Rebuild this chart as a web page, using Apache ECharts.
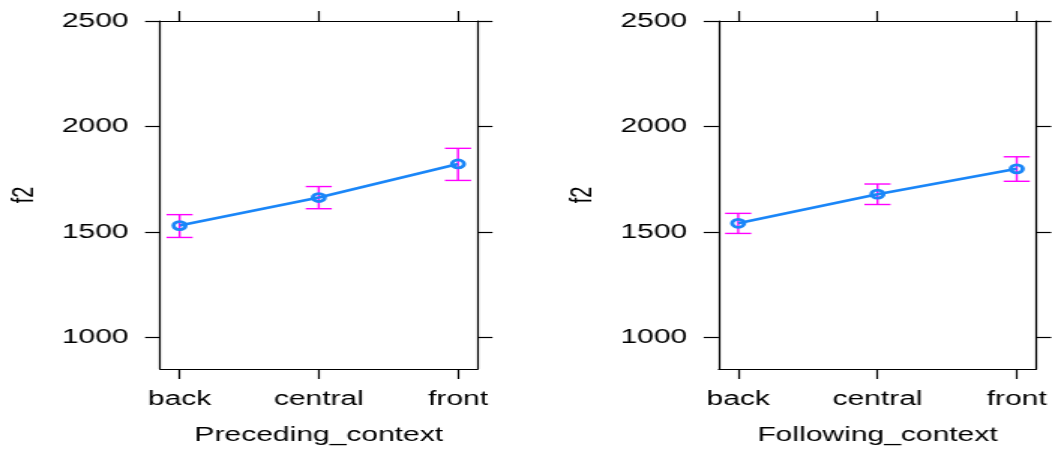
<!DOCTYPE html>
<html>
<head>
<meta charset="utf-8">
<script src="https://cdn.jsdelivr.net/npm/echarts@6/dist/echarts.min.js"></script>
<style>
html,body{margin:0;padding:0;background:#fff;overflow:hidden;}
#chart{width:701px;height:450px;transform:scaleX(1.5007);transform-origin:0 0;}
</style>
</head>
<body>
<div id="chart"></div>
<script>
// ---- data ----
const categories = ['back', 'central', 'front'];
const yTicks = [1000, 1500, 2000, 2500];
const panelTitles = ['Preceding_context', 'Following_context'];
const yName = 'f2';

const precedingFit   = [1531, 1664, 1823];
const precedingLower = [1475, 1611, 1745];
const precedingUpper = [1583, 1716, 1897];

const followingFit   = [1542, 1680, 1800];
const followingLower = [1494, 1631, 1741];
const followingUpper = [1589, 1728, 1857];

// ---- build ----
const panels = [
  {fit: precedingFit, lo: precedingLower, hi: precedingUpper, name: panelTitles[0]},
  {fit: followingFit, lo: followingLower, hi: followingUpper, name: panelTitles[1]}
];
const catIdx = categories.map((c, i) => i);
const FONT = 'Liberation Sans, Arial, Helvetica, sans-serif';
const LINE = '#000';
const TXT = '#000';
const BLUE = '#1a86f8';
const MAG = '#ff00ff';

const grids = [
  {left: 106.67, top: 21, width: 211.5, height: 349.7},
  {left: 478.9, top: 21, width: 211.6, height: 349.7}
];

const xAxes = [], yAxes = [], series = [];
panels.forEach((p, g) => {
  const xBase = {
    type: 'value', gridIndex: g, min: -0.14, max: 2.14,
    splitLine: {show: false},
    axisLine: {show: true, onZero: false, lineStyle: {color: LINE, width: 1.2}},
    axisTick: {show: true, inside: false, length: 10, customValues: catIdx, lineStyle: {color: LINE, width: 1.2}}
  };
  xAxes.push(Object.assign({}, xBase, {
    position: 'bottom',
    name: p.name, nameLocation: 'middle', nameGap: 56,
    nameTextStyle: {fontFamily: FONT, fontSize: 20, color: TXT},
    axisLabel: {show: true, margin: 20, customValues: catIdx, fontFamily: FONT, fontSize: 20, color: TXT,
      formatter: v => categories[Math.round(v)]}
  }));
  xAxes.push(Object.assign({}, xBase, {position: 'top', axisLabel: {show: false}}));

  const yBase = {
    type: 'value', gridIndex: g, min: 852, max: 2500,
    splitLine: {show: false},
    axisLine: {show: true, onZero: false, lineStyle: {color: LINE, width: 1.2}},
    axisTick: {show: true, inside: false, length: 10, customValues: yTicks, lineStyle: {color: LINE, width: 1.2}}
  };
  yAxes.push(Object.assign({}, yBase, {
    position: 'left',
    name: yName, nameLocation: 'middle', nameGap: 80,
    nameTextStyle: {fontFamily: FONT, fontSize: 20, color: TXT},
    axisLabel: {show: true, margin: 21, customValues: yTicks, fontFamily: FONT, fontSize: 20, color: TXT,
      formatter: v => String(Math.round(v))}
  }));
  yAxes.push(Object.assign({}, yBase, {position: 'right', axisLabel: {show: false}}));

  const xi = g * 2, yi = g * 2;
  series.push({
    type: 'custom', xAxisIndex: xi, yAxisIndex: yi, z: 2,
    data: catIdx.map(i => [i, p.lo[i], p.hi[i]]),
    renderItem: (params, api) => {
      const x = api.value(0);
      const lo = api.coord([x, api.value(1)]);
      const hi = api.coord([x, api.value(2)]);
      const cap = 8.7;
      const st = {stroke: MAG, lineWidth: 1.4, fill: null};
      return {type: 'group', children: [
        {type: 'line', shape: {x1: lo[0], y1: lo[1], x2: hi[0], y2: hi[1]}, style: st},
        {type: 'line', shape: {x1: lo[0] - cap, y1: lo[1], x2: lo[0] + cap, y2: lo[1]}, style: st},
        {type: 'line', shape: {x1: hi[0] - cap, y1: hi[1], x2: hi[0] + cap, y2: hi[1]}, style: st}
      ]};
    }
  });
  series.push({
    type: 'line', xAxisIndex: xi, yAxisIndex: yi, z: 3,
    data: catIdx.map(i => [i, p.fit[i]]),
    symbol: 'circle', symbolSize: 8, showSymbol: true,
    lineStyle: {color: BLUE, width: 2.6},
    itemStyle: {color: 'rgba(0,0,0,0)', borderColor: BLUE, borderWidth: 2.8},
    emphasis: {disabled: true}
  });
});

const chart = echarts.init(document.getElementById('chart'), null, {renderer: 'canvas'});
chart.setOption({
  animation: false,
  backgroundColor: '#fff',
  grid: grids,
  xAxis: xAxes,
  yAxis: yAxes,
  series: series
});
</script>
</body>
</html>
